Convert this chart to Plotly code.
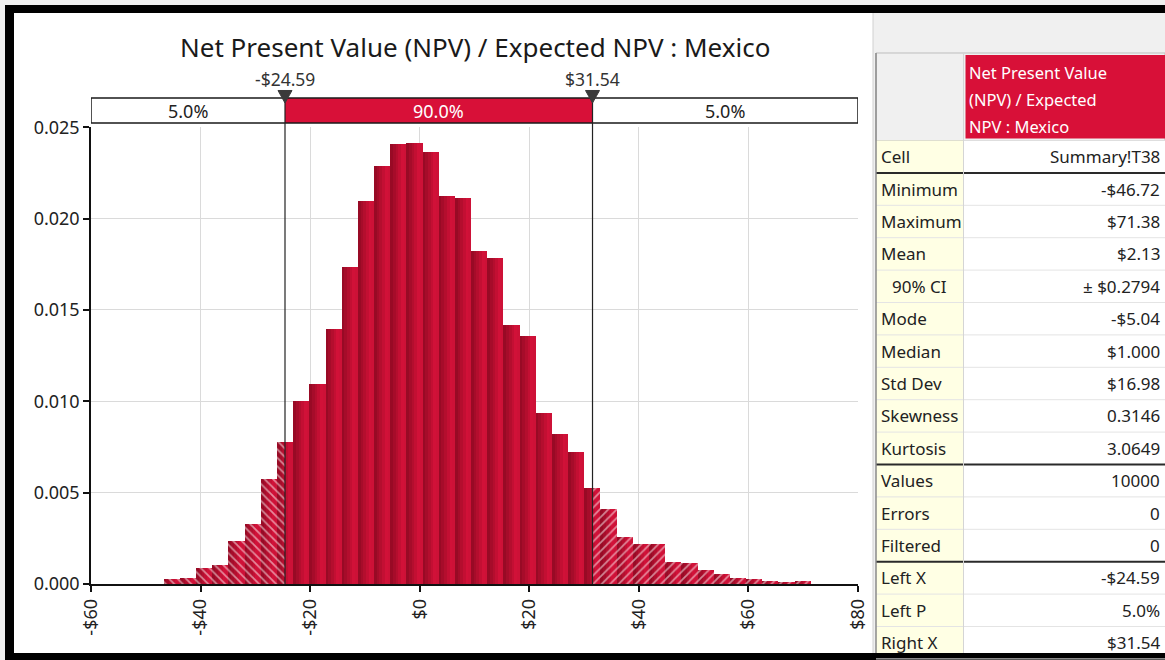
import numpy as np
import plotly.graph_objects as go

W, H = 1165, 660

# ---------------- data ----------------
title_text = "Net Present Value (NPV) / Expected NPV : Mexico"
stat_min = -46.72
stat_max = 71.38
n_bins = 40
density = [0.00026, 0.00029, 0.00088, 0.00100, 0.00236, 0.00325, 0.00574, 0.00777,
           0.00999, 0.01091, 0.01393, 0.01736, 0.02093, 0.02285, 0.02407, 0.02414,
           0.02361, 0.02123, 0.02112, 0.01822, 0.01784, 0.01418, 0.01354, 0.00936,
           0.00822, 0.00720, 0.00526, 0.00409, 0.00256, 0.00219, 0.00219, 0.00117,
           0.00113, 0.00075, 0.00053, 0.00031, 0.00026, 0.00015, 0.00009, 0.00016]
left_x = -24.59
right_x = 31.54
left_x_label = "-$24.59"
right_x_label = "$31.54"
seg_labels = ["5.0%", "90.0%", "5.0%"]
x_tickvals = [-60, -40, -20, 0, 20, 40, 60, 80]
x_ticktext = ["-$60", "-$40", "-$20", "$0", "$20", "$40", "$60", "$80"]
y_tickvals = [0.0, 0.005, 0.010, 0.015, 0.020, 0.025]
y_ticktext = ["0.000", "0.005", "0.010", "0.015", "0.020", "0.025"]
table_header = ["Net Present Value", "(NPV) / Expected", "NPV : Mexico"]
table_labels = ["Cell", "Minimum", "Maximum", "Mean", "90% CI", "Mode", "Median",
                "Std Dev", "Skewness", "Kurtosis", "Values", "Errors", "Filtered",
                "Left X", "Left P", "Right X"]
table_values = ["Summary!T38", "-$46.72", "$71.38", "$2.13", "\u00b1 $0.2794", "-$5.04",
                "$1.000", "$16.98", "0.3146", "3.0649", "10000", "0", "0",
                "-$24.59", "5.0%", "$31.54"]
thick_after = [0, 9, 12]

# ---------------- layout helpers (pixels -> paper) ----------------
FONT = "Noto Sans"
def px(x):
    return x / W
def py(y):
    return 1 - y / H

PL, PR, PT, PB = 91, 858, 127.3, 584
XR = [-60, 80]
YR = [0, 0.025]
xscale = (PR - PL) / (XR[1] - XR[0])

CRIMSON = "#D81038"

# ---------------- histogram bars with per-bar gradient ----------------
edges = np.linspace(stat_min, stat_max, n_bins + 1)
NS = 6
dark = np.array([145, 10, 35])
bright = np.array([214, 18, 58])

def grad(f):
    if f < 0.8:
        t = f / 0.8
    else:
        t = 1 - (f - 0.8) / 0.2 * 0.2
    c = dark + (bright - dark) * t
    return "rgb(%d,%d,%d)" % tuple(int(v) for v in c)

xs, ws, ys, cols, pats = [], [], [], [], []
for i in range(n_bins):
    e0, e1 = edges[i], edges[i + 1]
    sw = (e1 - e0) / NS
    for k in range(NS):
        s0 = e0 + k * sw
        s1 = s0 + sw
        cuts = [c for c in (left_x, right_x) if s0 < c < s1]
        pts = [s0] + cuts + [s1]
        for a, b in zip(pts[:-1], pts[1:]):
            mid = (a + b) / 2
            xs.append(mid)
            ws.append(b - a)
            ys.append(density[i])
            cols.append(grad((mid - e0) / (e1 - e0)))
            pats.append("\\" if mid < left_x else ("/" if mid > right_x else ""))

fig = go.Figure()
fig.add_trace(go.Bar(
    x=xs, y=ys, width=ws,
    marker=dict(color=cols, line=dict(width=0),
                pattern=dict(shape=pats, fgcolor="white", size=6, solidity=0.3,
                             fillmode="overlay")),
    hoverinfo="skip", showlegend=False))

shapes = []
annotations = []

# background: chart area white, outer light gray, black frame
shapes.append(dict(type="rect", xref="paper", yref="paper", x0=px(14), x1=px(873),
                   y0=py(653), y1=py(13), fillcolor="white", line=dict(width=0),
                   layer="below"))
for (x0, x1, y0, y1) in [(5, W, 5, 13), (5, 14, 5, H), (5, W, 653, H)]:
    shapes.append(dict(type="rect", xref="paper", yref="paper", x0=px(x0), x1=px(x1),
                       y0=py(y1), y1=py(y0), fillcolor="black", line=dict(width=0),
                       layer="above"))

# delimiter bar
BT, BB = 98, 123
shapes.append(dict(type="rect", xref="x", yref="paper", x0=XR[0], x1=XR[1],
                   y0=py(BB), y1=py(BT), fillcolor="white", line=dict(width=0)))
shapes.append(dict(type="rect", xref="x", yref="paper", x0=left_x, x1=right_x,
                   y0=py(BB), y1=py(BT), fillcolor=CRIMSON, line=dict(width=0)))
shapes.append(dict(type="rect", xref="x", yref="paper", x0=XR[0], x1=XR[1],
                   y0=py(BB), y1=py(BT), fillcolor="rgba(0,0,0,0)",
                   line=dict(color="#1a1a1a", width=1.5)))
for xv in (left_x, right_x):
    shapes.append(dict(type="line", xref="x", yref="paper", x0=xv, x1=xv,
                       y0=py(PB), y1=py(BT), line=dict(color="#222222", width=1.2)))
    hw = 7.0 / xscale
    shapes.append(dict(type="path", xref="x", yref="paper",
                       path="M %f,%f L %f,%f L %f,%f Z" % (xv - hw, py(90.5), xv + hw,
                                                         py(90.5), xv, py(103)),
                       fillcolor="#3a3a3a", line=dict(color="#3a3a3a", width=1)))

seg_centers = [(XR[0] + left_x) / 2, (left_x + right_x) / 2, (right_x + XR[1]) / 2]
for lab, xc, colr in zip(seg_labels, seg_centers, ["#222222", "white", "#222222"]):
    annotations.append(dict(text=lab, x=xc, xref="x", y=py(110.5), yref="paper",
                            showarrow=False, xanchor="center", yanchor="middle",
                            font=dict(family=FONT, size=18, color=colr)))
for lab, xv in ((left_x_label, left_x), (right_x_label, right_x)):
    annotations.append(dict(text=lab, x=xv, xref="x", y=py(79), yref="paper",
                            showarrow=False, xanchor="center", yanchor="middle",
                            font=dict(family=FONT, size=17.5, color="#333333")))

# title
annotations.append(dict(text=title_text, x=px((PL + PR) / 2), y=py(47), xref="paper",
                        yref="paper", showarrow=False, xanchor="center",
                        yanchor="middle",
                        font=dict(family=FONT, size=26, color="#1a1a1a")))

# ---------------- statistics table ----------------
TL, TC, TRt = 876, 963.5, W
RH = 32.4
R0 = 140.5
# header
shapes.append(dict(type="rect", xref="paper", yref="paper", x0=px(TL), x1=px(TRt),
                   y0=py(R0), y1=py(53), fillcolor="#F0F0F0",
                   line=dict(color="#BDBDBD", width=1), layer="below"))
shapes.append(dict(type="rect", xref="paper", yref="paper", x0=px(965.5), x1=px(TRt),
                   y0=py(138.5), y1=py(55), fillcolor=CRIMSON, line=dict(width=0),
                   layer="below"))
for j, line in enumerate(table_header):
    annotations.append(dict(text=line, x=px(967), y=py(72 + j * 27), xref="paper",
                            yref="paper", showarrow=False, xanchor="left",
                            yanchor="middle",
                            font=dict(family=FONT, size=16.5, color="white")))
for i, (lab, val) in enumerate(zip(table_labels, table_values)):
    top = R0 + i * RH
    bot = top + RH
    shapes.append(dict(type="rect", xref="paper", yref="paper", x0=px(TL), x1=px(TC),
                       y0=py(bot), y1=py(top), fillcolor="#FFFFE4", line=dict(width=0),
                       layer="below"))
    shapes.append(dict(type="rect", xref="paper", yref="paper", x0=px(TC), x1=px(TRt),
                       y0=py(bot), y1=py(top), fillcolor="white", line=dict(width=0),
                       layer="below"))
    if i in thick_after:
        shapes.append(dict(type="line", xref="paper", yref="paper", x0=px(TL),
                           x1=px(TRt), y0=py(bot), y1=py(bot),
                           line=dict(color="#2a2a2a", width=2)))
    else:
        shapes.append(dict(type="line", xref="paper", yref="paper", x0=px(TL),
                           x1=px(TRt), y0=py(bot), y1=py(bot),
                           line=dict(color="#E4E4E4", width=1)))
    cy = (top + bot) / 2
    if lab == "90% CI":
        annotations.append(dict(text=lab, x=px((TL + TC) / 2), y=py(cy), xref="paper",
                                yref="paper", showarrow=False, xanchor="center",
                                yanchor="middle",
                                font=dict(family=FONT, size=17, color="#222222")))
    else:
        annotations.append(dict(text=lab, x=px(878.5), y=py(cy), xref="paper",
                                yref="paper", showarrow=False, xanchor="left",
                                yanchor="middle",
                                font=dict(family=FONT, size=17, color="#222222")))
    annotations.append(dict(text=val, x=px(1162), y=py(cy), xref="paper", yref="paper",
                            showarrow=False, xanchor="right", yanchor="middle",
                            font=dict(family=FONT, size=17, color="#222222")))
# table vertical lines
shapes.append(dict(type="line", xref="paper", yref="paper", x0=px(TC), x1=px(TC),
                   y0=py(653), y1=py(53), line=dict(color="#D5D5D5", width=1)))
shapes.append(dict(type="line", xref="paper", yref="paper", x0=px(TL), x1=px(TL),
                   y0=py(653), y1=py(53), line=dict(color="#8A8A8A", width=1.5)))
shapes.append(dict(type="line", xref="paper", yref="paper", x0=px(873), x1=px(873),
                   y0=py(653), y1=py(13), line=dict(color="#D0D0D0", width=1)))

axis_font = dict(family=FONT, size=18, color="#222222")
fig.update_layout(
    width=W, height=H,
    margin=dict(l=0, r=0, t=0, b=0, pad=0, autoexpand=False),
    paper_bgcolor="#F0F0F0",
    plot_bgcolor="#F3F3F3",
    bargap=0,
    showlegend=False,
    xaxis=dict(domain=[px(PL), px(PR)], range=XR, tickmode="array",
               tickvals=x_tickvals, ticktext=x_ticktext, tickangle=-90,
               ticks="outside", ticklen=6, tickwidth=1.5, tickcolor="#111111",
               showline=True, linecolor="#111111", linewidth=1.5,
               showgrid=True, gridcolor="#DADADA", gridwidth=1, zeroline=False,
               tickfont=axis_font, fixedrange=True, automargin=False),
    yaxis=dict(domain=[py(PB), py(PT)], range=YR, tickmode="array",
               tickvals=y_tickvals, ticktext=y_ticktext,
               ticks="outside", ticklen=6, tickwidth=1.5, tickcolor="#111111",
               showline=True, linecolor="#111111", linewidth=1.5,
               showgrid=True, gridcolor="#DADADA", gridwidth=1, zeroline=False,
               tickfont=axis_font, fixedrange=True, automargin=False),
    shapes=shapes,
    annotations=annotations,
)

fig.write_html(
    "out.html",
    config={"displayModeBar": False},
    post_script="document.body.style.margin='0px';document.body.style.overflow='hidden';",
)
